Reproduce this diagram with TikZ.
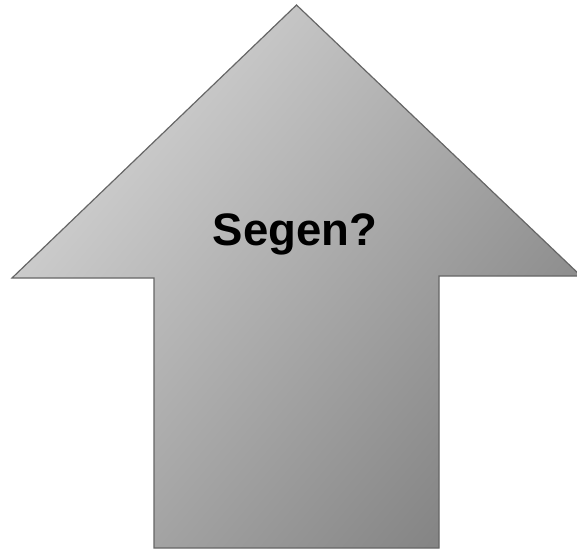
\documentclass[tikz,border=0pt]{standalone}
\usepackage{fontspec}
\setmainfont{Liberation Sans}
\tikzset{
  arrowbody/.style={draw=black!60, line width=1.2pt, left color=black!17, right color=black!48, shading angle=50},
  arrowlabel/.style={font=\bfseries\fontsize{45.5}{50}\selectfont, text=black, anchor=base, inner sep=0pt}
}
\begin{document}
\begin{tikzpicture}[x=1pt,y=-1pt]
\useasboundingbox (0,0) rectangle (577,550);
\clip (0,0) rectangle (577,550);
\path[arrowbody] (296.5,5) -- (581,276) -- (439,276) -- (439,548) -- (154,548) -- (154,278) -- (12,278) -- cycle;
\node[arrowlabel] (lbl) at (295,245) {Segen?};
\end{tikzpicture}
\end{document}
